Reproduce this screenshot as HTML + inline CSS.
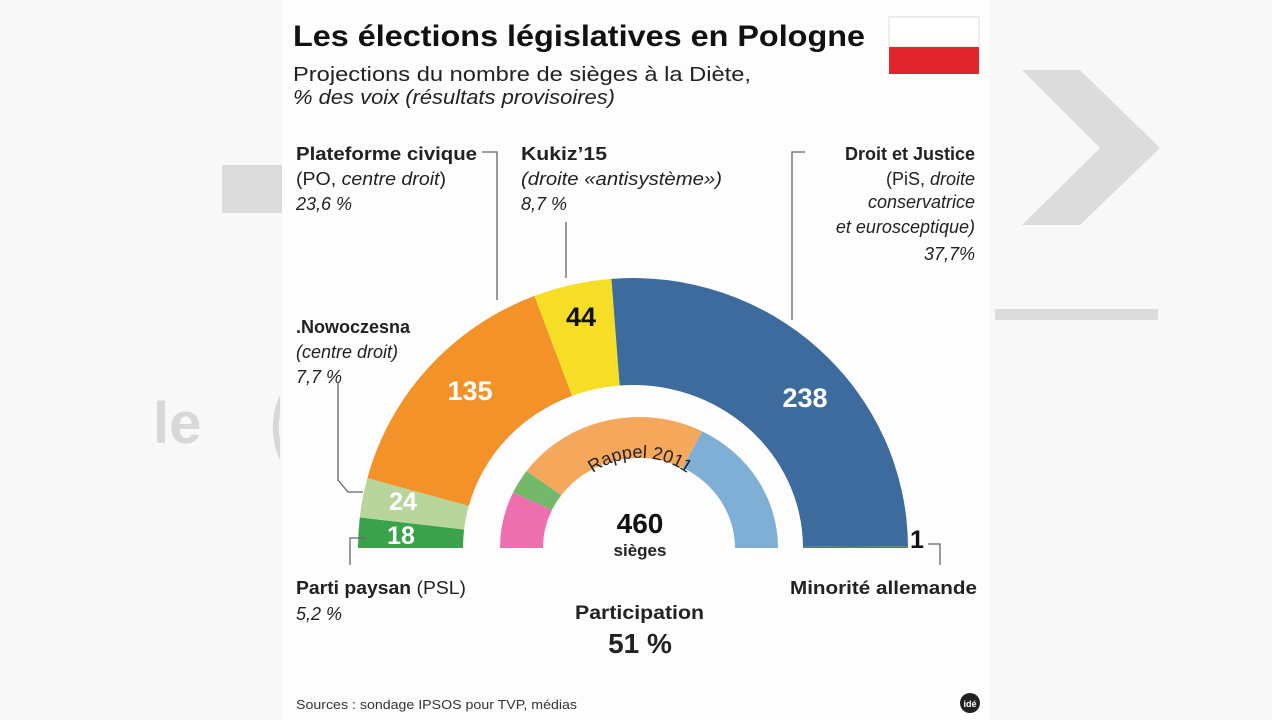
<!DOCTYPE html>
<html><head><meta charset="utf-8"><style>
html,body{margin:0;padding:0;background:#f7f7f7;width:1272px;height:720px;overflow:hidden;font-family:"Liberation Sans",sans-serif}
svg{position:absolute;left:0;top:0}
</style></head><body>
<svg width="1272" height="720" id="s" xmlns="http://www.w3.org/2000/svg">
<rect width="1272" height="720" fill="#f8f8f8"/>
<rect x="222" y="165" width="60" height="48" fill="#dcdcdc"/>
<polygon points="1022,70 1080,70 1160,148 1080,225 1022,225 1100,148" fill="#dcdcdc"/>
<rect x="995" y="309" width="163" height="11" fill="#dcdcdc"/>
<text x="153" y="443" font-size="58" font-weight="bold" fill="#d8d8d8">le</text>
<path d="M280,395 A45,60 0 0 0 280,460 L280,440 A25,40 0 0 1 280,415 Z" fill="#d8d8d8"/>
<rect x="282" y="0" width="708" height="720" fill="#fdfdfd"/>
<g id="arcs"></g>
<text x="293" y="46" font-size="30" font-weight="bold" fill="#111" textLength="572" lengthAdjust="spacingAndGlyphs">Les élections législatives en Pologne</text>
<rect x="889" y="17" width="90" height="30" fill="#fff" stroke="#ddd"/>
<rect x="889" y="47" width="90" height="27" fill="#e2242f"/>
<text x="293" y="81" font-size="20" fill="#222" textLength="458" lengthAdjust="spacingAndGlyphs">Projections du nombre de sièges à la Diète,</text>
<text x="293" y="104" font-size="20" font-style="italic" fill="#222" textLength="322" lengthAdjust="spacingAndGlyphs">% des voix (résultats provisoires)</text>
<g font-size="18" fill="#222">
<text x="296" y="160" font-weight="bold" textLength="181" lengthAdjust="spacingAndGlyphs">Plateforme civique</text>
<text x="296" y="185" textLength="150" lengthAdjust="spacingAndGlyphs">(PO, <tspan font-style="italic">centre droit</tspan>)</text>
<text x="296" y="210" font-style="italic">23,6 %</text>
<text x="521" y="160" font-weight="bold" textLength="86" lengthAdjust="spacingAndGlyphs">Kukiz’15</text>
<text x="521" y="185" font-style="italic" textLength="201" lengthAdjust="spacingAndGlyphs">(droite «antisystème»)</text>
<text x="521" y="210" font-style="italic">8,7 %</text>
<text x="975" y="160" font-weight="bold" text-anchor="end">Droit et Justice</text>
<text x="975" y="185" text-anchor="end">(PiS, <tspan font-style="italic">droite</tspan></text>
<text x="975" y="208" font-style="italic" text-anchor="end">conservatrice</text>
<text x="975" y="233" font-style="italic" text-anchor="end">et eurosceptique)</text>
<text x="975" y="260" font-style="italic" text-anchor="end">37,7%</text>
<text x="296" y="333" font-weight="bold">.Nowoczesna</text>
<text x="296" y="358" font-style="italic">(centre droit)</text>
<text x="296" y="383" font-style="italic">7,7 %</text>
<text x="296" y="594" textLength="170" lengthAdjust="spacingAndGlyphs"><tspan font-weight="bold">Parti paysan</tspan> (PSL)</text>
<text x="296" y="620" font-style="italic">5,2 %</text>
<text x="790" y="594" font-weight="bold" textLength="187" lengthAdjust="spacingAndGlyphs">Minorité allemande</text>
<text x="575" y="619" font-weight="bold" font-size="19" textLength="129" lengthAdjust="spacingAndGlyphs">Participation</text>
<text x="640" y="653" font-weight="bold" text-anchor="middle" font-size="28">51 %</text>
</g>
<text x="296" y="709" font-size="13" fill="#333" textLength="281" lengthAdjust="spacingAndGlyphs">Sources : sondage IPSOS pour TVP, médias</text>
<circle cx="970" cy="703" r="10" fill="#222"/>
<text x="970" y="707" font-size="9" fill="#fff" text-anchor="middle" font-weight="bold">idé</text>
<g stroke="#666" fill="none" stroke-width="1.3">
<path d="M482,152 L497,152 L497,300"/>
<path d="M566,222 L566,278"/>
<path d="M805,152 L792,152 L792,320"/>
<path d="M338,383 L338,480 L348,492 L363,492"/>
<path d="M366,538 L350,538 L350,565"/>
<path d="M928,544 L940,544 L940,565"/>
</g>
<g font-weight="bold" text-anchor="middle">
<text x="470" y="400" font-size="27" fill="#fff">135</text>
<text x="581" y="326" font-size="27" fill="#111">44</text>
<text x="805" y="407" font-size="27" fill="#fff">238</text>
<text x="403" y="510" font-size="25" fill="#fff">24</text>
<text x="401" y="544" font-size="25" fill="#fff">18</text>
<text x="917" y="548" font-size="25" fill="#111">1</text>
<text x="640" y="533" font-size="28" fill="#111">460</text>
<text x="640" y="556" font-size="17" fill="#222">sièges</text>
</g>
<path id="rp" d="M565,510 A80,80 0 0 1 715,510" fill="none"/>
<text font-size="18" fill="#222" text-anchor="middle"><textPath href="#rp" startOffset="50%">Rappel 2011</textPath></text>
</svg>
<script>
function seg(cx,cy,rx,ry,irx,iry,a0,a1,col){
 const r=Math.PI/180;
 const p=(x,y,t)=>[cx-x*Math.cos(t*r),cy-y*Math.sin(t*r)];
 const A=p(rx,ry,a0),B=p(rx,ry,a1),C=p(irx,iry,a1),D=p(irx,iry,a0);
 return `<path d="M${A} A${rx},${ry} 0 0 1 ${B} L${C} A${irx},${iry} 0 0 0 ${D} Z" fill="${col}"/>`;
}
let h='';
const cx=633,cy=548,rx=275,ry=270,irx=170,iry=163;
const segs=[[0,6.5,'#3aa24a'],[6.5,15,'#b8d59c'],[15,69,'#f39229'],[69,85.5,'#f7de26'],[85.5,179.6,'#3e6b9e'],[179.6,180,'#4a8a4a']];
segs.forEach(s=>h+=seg(cx,cy,rx,ry,irx,iry,s[0],s[1],s[2]));
const c2=639,rx2=139,ry2=131,irx2=96,iry2=90;
[[0,25,'#ee6fae'],[25,36,'#74b96a'],[36,117,'#f5a85c'],[117,180,'#80afd6']].forEach(s=>h+=seg(c2,cy,rx2,ry2,irx2,iry2,s[0],s[1],s[2]));
document.getElementById('arcs').innerHTML=h;
</script>
</body></html>
